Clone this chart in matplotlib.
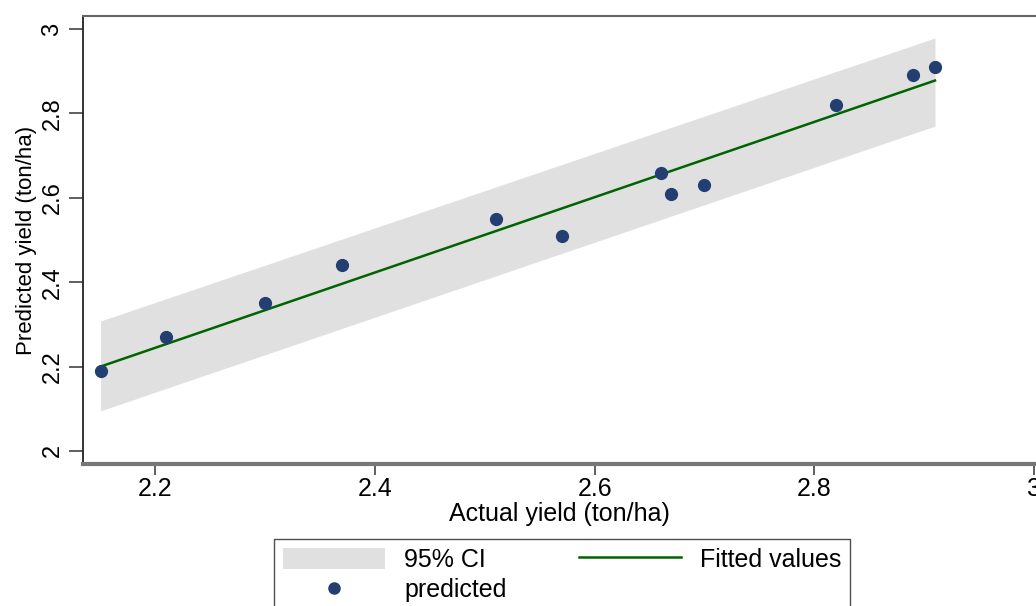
import numpy as np
import matplotlib
matplotlib.use("Agg")
import matplotlib.pyplot as plt
from matplotlib.patches import Patch
from matplotlib.lines import Line2D

plt.rcParams['font.family'] = ['Liberation Sans', 'DejaVu Sans']

# observed points
actual = [2.15, 2.21, 2.30, 2.37, 2.51, 2.57, 2.66, 2.67, 2.70, 2.82, 2.89, 2.91]
predicted = [2.19, 2.27, 2.35, 2.44, 2.55, 2.51, 2.66, 2.61, 2.63, 2.82, 2.89, 2.91]

# fitted line and 95% CI band (read at the ends of the range)
fit_x = [2.15, 2.91]
fit_y = [2.200, 2.878]
ci_lo = [2.095, 2.770]
ci_hi = [2.308, 2.979]

xticks = [2.2, 2.4, 2.6, 2.8, 3.0]
xtick_labels = ['2.2', '2.4', '2.6', '2.8', '3']
yticks = [2.0, 2.2, 2.4, 2.6, 2.8, 3.0]
ytick_labels = ['2', '2.2', '2.4', '2.6', '2.8', '3']

band_col = '#e0e0e0'
line_col = '#006400'
dot_col = '#233e70'

fig = plt.figure(figsize=(10.36, 6.06), dpi=100)
ax = fig.add_axes([83/1036, 1 - 464/606, 1 - 83/1036, (464 - 16)/606])

ax.fill_between(fit_x, ci_lo, ci_hi, color=band_col, lw=0, zorder=1)
ax.plot(fit_x, fit_y, color=line_col, lw=1.8, zorder=2)
ax.plot(actual, predicted, 'o', color=dot_col, ms=8.5, mec=dot_col, zorder=3)

ax.set_xlim(2.134, 3.002)
ax.set_ylim(1.969, 3.031)
ax.set_xticks(xticks)
ax.set_xticklabels(xtick_labels)
ax.set_yticks(yticks)
ax.set_yticklabels(ytick_labels, rotation=90, va='center')
ax.tick_params(axis='x', length=8, width=1.2, color='#444444', labelsize=18, pad=1)
ax.tick_params(axis='y', length=10, width=1.2, color='#444444', labelsize=17, pad=4)

ax.spines['right'].set_visible(False)
ax.spines['left'].set_color('#222222')
ax.spines['left'].set_linewidth(1.3)
ax.spines['top'].set_color('#666666')
ax.spines['top'].set_linewidth(1.5)
ax.spines['bottom'].set_color('#777777')
ax.spines['bottom'].set_linewidth(3)

ax.set_xlabel('Actual yield (ton/ha)', fontsize=18, labelpad=1)
ax.set_ylabel('Predicted yield (ton/ha)', fontsize=16, labelpad=3)

handles = [Patch(facecolor=band_col, edgecolor='none'),
           Line2D([], [], ls='none', marker='o', color=dot_col, ms=8),
           Line2D([], [], color=line_col, lw=1.8)]
labels = ['95% CI', 'predicted', 'Fitted values']
leg = fig.legend(handles, labels, ncol=2, loc='upper left',
                 bbox_to_anchor=(274/1036, 1 - 539/606), fontsize=18,
                 frameon=True, fancybox=False, handlelength=4.1,
                 handleheight=0.9, columnspacing=2.9, handletextpad=0.75,
                 labelspacing=0.25, borderpad=0.35, borderaxespad=0)
leg.get_frame().set_edgecolor('#222222')
leg.get_frame().set_linewidth(1.0)

fig.savefig('out.png', dpi=100)
